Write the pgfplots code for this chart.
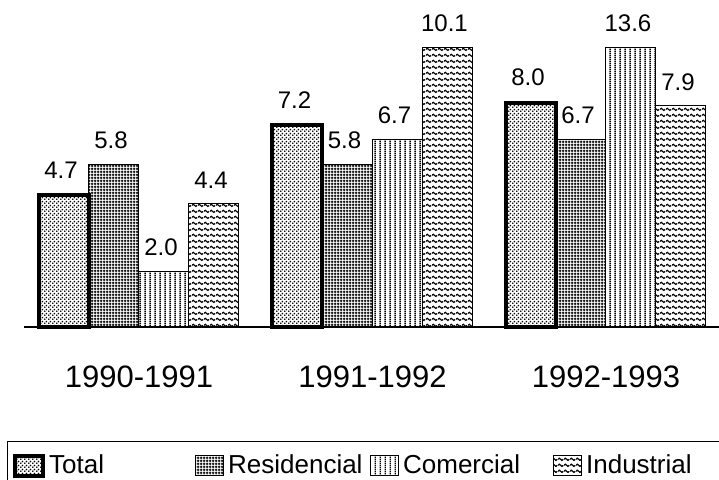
\documentclass[border=0pt]{standalone}
\usepackage{fontspec}
\setmainfont{Liberation Sans}
\usepackage{pgfplots}
\pgfplotsset{compat=1.18}
\usetikzlibrary{patterns}

% fill patterns of the four series
\pgfdeclarepatternformonly{dotsfine}{\pgfqpoint{0pt}{0pt}}{\pgfqpoint{2pt}{2pt}}{\pgfqpoint{2pt}{2pt}}{%
  \pgfpathcircle{\pgfqpoint{0.5pt}{0.5pt}}{0.55pt}%
  \pgfpathcircle{\pgfqpoint{1.5pt}{1.5pt}}{0.55pt}%
  \pgfusepath{fill}}
\pgfdeclarepatternformonly{gridfine}{\pgfqpoint{0pt}{0pt}}{\pgfqpoint{1.3pt}{1.3pt}}{\pgfqpoint{1.3pt}{1.3pt}}{%
  \pgfsetlinewidth{0.6pt}%
  \pgfpathmoveto{\pgfqpoint{0.65pt}{0pt}}\pgfpathlineto{\pgfqpoint{0.65pt}{1.3pt}}%
  \pgfpathmoveto{\pgfqpoint{0pt}{0.65pt}}\pgfpathlineto{\pgfqpoint{1.3pt}{0.65pt}}%
  \pgfusepath{stroke}}
\pgfdeclarepatternformonly{vlines}{\pgfqpoint{0pt}{0pt}}{\pgfqpoint{2.3pt}{1pt}}{\pgfqpoint{2.3pt}{1pt}}{%
  \pgfsetlinewidth{0.7pt}%
  \pgfpathmoveto{\pgfqpoint{1.15pt}{0pt}}\pgfpathlineto{\pgfqpoint{1.15pt}{1pt}}%
  \pgfusepath{stroke}}
\pgfdeclarepatternformonly{waves}{\pgfqpoint{0pt}{0pt}}{\pgfqpoint{3pt}{2.8pt}}{\pgfqpoint{3pt}{2.8pt}}{%
  \pgfsetlinewidth{0.65pt}%
  \pgfpathmoveto{\pgfqpoint{0pt}{1.4pt}}%
  \pgfpathcurveto{\pgfqpoint{0.5pt}{2.15pt}}{\pgfqpoint{1pt}{2.15pt}}{\pgfqpoint{1.5pt}{1.4pt}}%
  \pgfpathcurveto{\pgfqpoint{2pt}{0.65pt}}{\pgfqpoint{2.5pt}{0.65pt}}{\pgfqpoint{3pt}{1.4pt}}%
  \pgfusepath{stroke}}

\begin{document}
\begin{tikzpicture}
\begin{axis}[
  at={(12pt,76pt)}, anchor=south west,
  scale only axis, width=347.5pt, height=140pt,
  xmin=-0.4925, xmax=2.484, ymin=0, ymax=10,
  ybar=0pt, bar width=25pt,
  axis x line*=bottom, axis y line=none,
  axis line style={line width=0.75pt,-},
  xtick={0,1,2},
  xticklabels={1990-1991,1991-1992,1992-1993},
  major tick length=0pt,
  xticklabel style={font=\fontsize{15.5}{17}\selectfont, yshift=-16pt},
  clip=false,
  % bars taller than the axis are cut off at its top, as in the original
  y filter/.expression={min(y,10)},
  point meta=rawy,
  nodes near coords={\pgfmathprintnumber[fixed,fixed zerofill,precision=1,assume math mode=true]{\pgfplotspointmeta}},
  every node near coord/.append style={anchor=south, inner sep=0pt, yshift=7.5pt, xshift=-1.5pt,
    font=\fontsize{12}{14}\selectfont},
  legend columns=4,
  legend image code/.code={\draw[#1] (0pt,-5pt) rectangle (14pt,5pt);},
  legend style={at={(-0.02446,-0.4071)}, anchor=north west, draw=black, line width=0.75pt,
    inner xsep=2.5pt, inner ysep=6pt, column sep=0pt,
    font=\fontsize{13}{15}\selectfont,
    /tikz/every odd column/.append style={column sep=2.2pt},
    nodes={inner sep=0pt}},
]
\addplot[draw=black, line width=2pt, pattern=dotsfine] coordinates {(0,4.7) (1,7.2) (2,8.0)};
\addlegendentry{\makebox[72.8pt][l]{Total}}
\addplot[draw=black, line width=0.5pt, pattern=gridfine] coordinates {(0,5.8) (1,5.8) (2,6.7)};
\addlegendentry{\makebox[70.8pt][l]{Residencial}}
\addplot[draw=black, line width=0.5pt, pattern=vlines] coordinates {(0,2.0) (1,6.7) (2,13.6)};
\addlegendentry{\makebox[74.8pt][l]{Comercial}}
\addplot[draw=black, line width=0.5pt, pattern=waves] coordinates {(0,4.4) (1,10.1) (2,7.9)};
\addlegendentry{\makebox[80pt][l]{Industrial}}
\end{axis}
\pgfresetboundingbox
\path[use as bounding box] (0,0) rectangle (359.5pt,239.5pt);
\end{tikzpicture}
\end{document}
